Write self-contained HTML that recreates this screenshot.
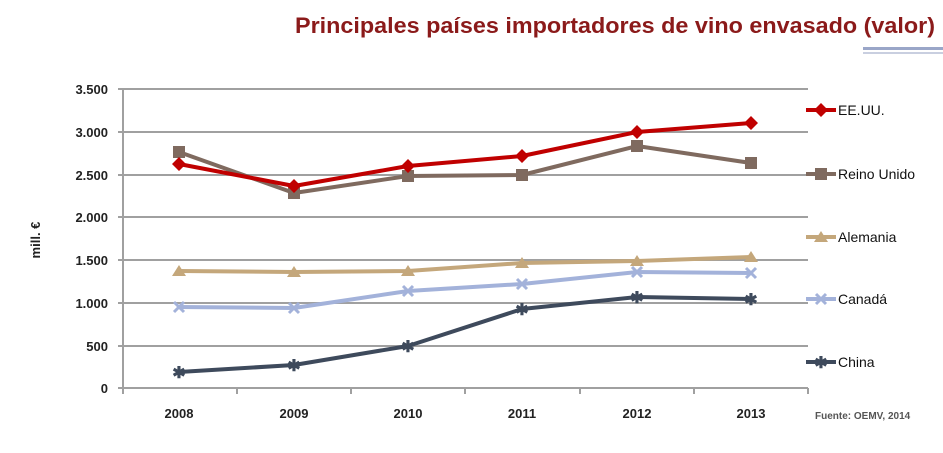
<!DOCTYPE html>
<html><head><meta charset="utf-8"><style>
body{margin:0;width:943px;height:448px;background:#fff;overflow:hidden;font-family:"Liberation Sans",sans-serif}
</style></head><body>
<svg width="943" height="448" viewBox="0 0 943 448" xmlns="http://www.w3.org/2000/svg">
<text x="935" y="33" text-anchor="end" font-size="22" font-weight="bold" fill="#8b1a1a" font-family="Liberation Sans Narrow, Liberation Sans, sans-serif" textLength="640" lengthAdjust="spacingAndGlyphs">Principales países importadores de vino envasado (valor)</text>
<rect x="863" y="47" width="80" height="3" fill="#9aa6c8"/>
<rect x="863" y="52" width="80" height="2" fill="#c9cfe0"/>
<g stroke="#a0a0a0" stroke-width="2">
<line x1="118" y1="89" x2="808" y2="89"/><line x1="118" y1="132" x2="808" y2="132"/>
<line x1="118" y1="175" x2="808" y2="175"/><line x1="118" y1="217" x2="808" y2="217"/>
<line x1="118" y1="260" x2="808" y2="260"/><line x1="118" y1="303" x2="808" y2="303"/>
<line x1="118" y1="346" x2="808" y2="346"/><line x1="118" y1="388" x2="808" y2="388"/>
<line x1="123" y1="89" x2="123" y2="394"/>
<line x1="237" y1="388" x2="237" y2="394"/><line x1="351" y1="388" x2="351" y2="394"/>
<line x1="465" y1="388" x2="465" y2="394"/><line x1="580" y1="388" x2="580" y2="394"/>
<line x1="694" y1="388" x2="694" y2="394"/><line x1="808" y1="388" x2="808" y2="394"/>
</g>
<g font-size="13" font-weight="bold" fill="#222" text-anchor="end">
<text x="108" y="94">3.500</text><text x="108" y="137">3.000</text><text x="108" y="180">2.500</text>
<text x="108" y="222">2.000</text><text x="108" y="265">1.500</text><text x="108" y="308">1.000</text>
<text x="108" y="351">500</text><text x="108" y="393">0</text>
</g>
<g font-size="13" font-weight="bold" fill="#222" text-anchor="middle">
<text x="179" y="418">2008</text><text x="294" y="418">2009</text><text x="408" y="418">2010</text>
<text x="522" y="418">2011</text><text x="637" y="418">2012</text><text x="751" y="418">2013</text>
</g>
<text x="40" y="240" font-size="13" font-weight="bold" fill="#222" text-anchor="middle" transform="rotate(-90 40 240)">mill. €</text>
<text x="815" y="419" font-size="10" font-weight="bold" fill="#555">Fuente: OEMV, 2014</text>
<!-- series -->
<g fill="none" stroke-width="4" stroke-linejoin="round">
<polyline stroke="#3e4a5c" points="179,372 294,365 408,346 522,309 637,297 751,299"/>
<polyline stroke="#a3b2da" points="179,307 294,308 408,291 522,284 637,272 751,273"/>
<polyline stroke="#c4a77b" points="179,271 294,272 408,271 522,263 637,261 751,257"/>
<polyline stroke="#7f6a5f" points="179,152 294,193 408,176 522,175 637,146 751,163"/>
<polyline stroke="#c00000" points="179,164 294,186 408,166 522,156 637,132 751,123"/>
</g>
<g fill="#3e4a5c" stroke="#3e4a5c" stroke-width="2.5" font-size="16" font-weight="bold" text-anchor="middle">
<text x="179" y="378" stroke="none">✱</text><text x="294" y="371" stroke="none">✱</text><text x="408" y="352" stroke="none">✱</text>
<text x="522" y="315" stroke="none">✱</text><text x="637" y="303" stroke="none">✱</text><text x="751" y="305" stroke="none">✱</text>
</g>
<g stroke="#a3b2da" stroke-width="3">
<path d="M174 302l10 10M184 302l-10 10M289 303l10 10M299 303l-10 10M403 286l10 10M413 286l-10 10M517 279l10 10M527 279l-10 10M632 267l10 10M642 267l-10 10M746 268l10 10M756 268l-10 10"/>
</g>
<g fill="#c4a77b">
<path d="M179 265l7 11h-14zM294 266l7 11h-14zM408 265l7 11h-14zM522 257l7 11h-14zM637 255l7 11h-14zM751 251l7 11h-14z"/>
</g>
<g fill="#7f6a5f">
<rect x="173" y="146" width="12" height="12"/><rect x="288" y="187" width="12" height="12"/><rect x="402" y="170" width="12" height="12"/>
<rect x="516" y="169" width="12" height="12"/><rect x="631" y="140" width="12" height="12"/><rect x="745" y="157" width="12" height="12"/>
</g>
<g fill="#c00000">
<path d="M179 157l7 7-7 7-7-7zM294 179l7 7-7 7-7-7zM408 159l7 7-7 7-7-7zM522 149l7 7-7 7-7-7zM637 125l7 7-7 7-7-7zM751 116l7 7-7 7-7-7z"/>
</g>
<!-- legend -->
<g stroke-width="4">
<line x1="806" y1="110" x2="836" y2="110" stroke="#c00000"/>
<line x1="806" y1="174" x2="836" y2="174" stroke="#7f6a5f"/>
<line x1="806" y1="237" x2="836" y2="237" stroke="#c4a77b"/>
<line x1="806" y1="299" x2="836" y2="299" stroke="#a3b2da"/>
<line x1="806" y1="362" x2="836" y2="362" stroke="#3e4a5c"/>
</g>
<path d="M821 103l7 7-7 7-7-7z" fill="#c00000"/>
<rect x="815" y="168" width="12" height="12" fill="#7f6a5f"/>
<path d="M821 231l7 11h-14z" fill="#c4a77b"/>
<path d="M816 294l10 10M826 294l-10 10" stroke="#a3b2da" stroke-width="3"/>
<text x="821" y="368" font-size="16" font-weight="bold" fill="#3e4a5c" text-anchor="middle">✱</text>
<g font-size="14" fill="#111">
<text x="838" y="115">EE.UU.</text><text x="838" y="179">Reino Unido</text>
<text x="838" y="242">Alemania</text><text x="838" y="304">Canadá</text><text x="838" y="367">China</text>
</g>
</svg>
</body></html>
